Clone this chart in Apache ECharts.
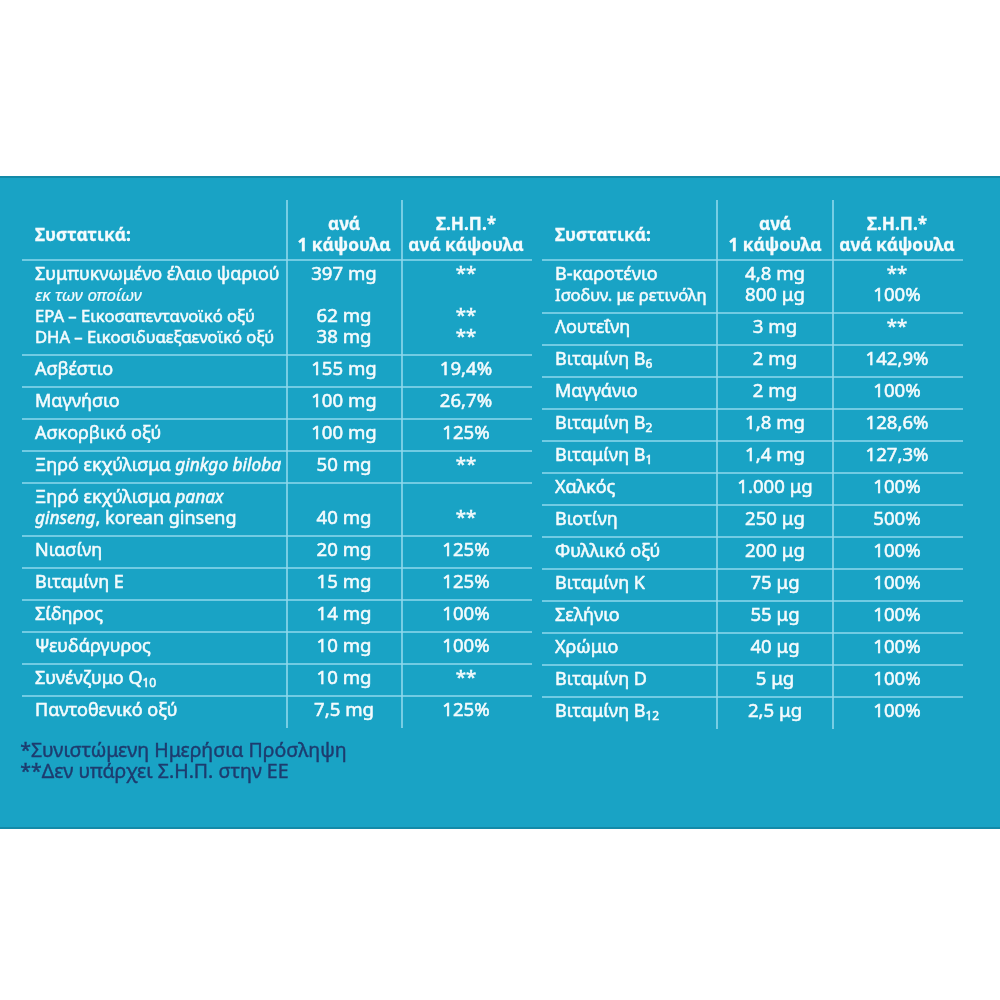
<!DOCTYPE html>
<html><head><meta charset="utf-8">
<script src="https://cdn.jsdelivr.net/npm/echarts@6/dist/echarts.min.js"></script>
<style>html,body{margin:0;padding:0;background:#fff}#c{width:1000px;height:1000px}</style>
</head><body><div id="c"></div>
<script>
// ---- content ----
const headerName = 'Συστατικά:';
const headerAmount = 'ανά\n1 κάψουλα';
const headerRda = 'Σ.Η.Π.*\nανά κάψουλα';

const leftNames = [
  'Συμπυκνωμένο έλαιο ψαριού\n{small|εκ των οποίων}\n{tight|EPA – Εικοσαπεντανοϊκό οξύ}\n{tight|DHA – Εικοσιδυαεξαενοϊκό οξύ}',
  'Ασβέστιο',
  'Μαγνήσιο',
  'Ασκορβικό οξύ',
  'Ξηρό εκχύλισμα {i|ginkgo biloba}',
  'Ξηρό εκχύλισμα {i|panax}\n{i|ginseng}, korean ginseng',
  'Νιασίνη',
  'Βιταμίνη E',
  'Σίδηρος',
  'Ψευδάργυρος',
  'Συνένζυμο Q{s|10}',
  'Παντοθενικό οξύ'
];
const leftAmounts = ['397 mg\n\n62 mg\n38 mg', '155 mg', '100 mg', '100 mg', '50 mg', '\n40 mg',
  '20 mg', '15 mg', '14 mg', '10 mg', '10 mg', '7,5 mg'];
const leftRda = ['**\n\n**\n**', '19,4%', '26,7%', '125%', '**', '\n**',
  '125%', '125%', '100%', '100%', '**', '125%'];

const rightNames = [
  'Β-καροτένιο\n{tight|Ισοδυν. με ρετινόλη}',
  'Λουτεΐνη',
  'Βιταμίνη B{s|6}',
  'Μαγγάνιο',
  'Βιταμίνη B{s|2}',
  'Βιταμίνη B{s|1}',
  'Χαλκός',
  'Βιοτίνη',
  'Φυλλικό οξύ',
  'Βιταμίνη K',
  'Σελήνιο',
  'Χρώμιο',
  'Βιταμίνη D',
  'Βιταμίνη B{s|12}'
];
const rightAmounts = ['4,8 mg\n800 μg', '3 mg', '2 mg', '2 mg', '1,8 mg', '1,4 mg', '1.000 μg',
  '250 μg', '200 μg', '75 μg', '55 μg', '40 μg', '5 μg', '2,5 μg'];
const rightRda = ['**\n100%', '**', '142,9%', '100%', '128,6%', '127,3%', '100%',
  '500%', '100%', '100%', '100%', '100%', '100%', '100%'];

const footnotes = ['*Συνιστώμενη Ημερήσια Πρόσληψη', '**Δεν υπάρχει Σ.Η.Π. στην ΕΕ'];

// ---- layout / style ----
const FONT = "'Noto Sans', 'DejaVu Sans', sans-serif";
const TEXT = '#f4fbfd';
const RULE = '#8fd8ec';
const TOP = 200, HEAD_H = 60, LINE_H = 21, PAD = 11;

const tables = [
  {names: leftNames, amounts: leftAmounts, rda: leftRda,
   x0: 22, x1: 532, d1: 287, d2: 402, nameX: 35, amtX: 344, rdaX: 466},
  {names: rightNames, amounts: rightAmounts, rda: rightRda,
   x0: 542, x1: 963, d1: 717, d2: 833, nameX: 555, amtX: 775, rdaX: 897}
];
tables.forEach(t => {
  t.tops = []; let y = TOP + HEAD_H;
  t.names.forEach((n, i) => {
    const lines = Math.max(n.split('\n').length, t.amounts[i].split('\n').length, t.rda[i].split('\n').length);
    const h = lines * LINE_H + PAD;
    t.tops.push([y, h]); y += h;
  });
  t.bottom = y;
});

const rich = {
  i: {fontStyle: 'italic', fontSize: 17.3, fontFamily: FONT, lineHeight: LINE_H},
  small: {fontStyle: 'italic', fontSize: 17, fontFamily: FONT, lineHeight: LINE_H, lineWidth: 0.2},
  tight: {fontSize: 16.6, fontFamily: FONT, lineHeight: LINE_H},
  s: {fontSize: 12, fontFamily: FONT, verticalAlign: 'bottom', lineHeight: 16}
};

const data = [];
tables.forEach((t, ti) => { data.push([ti, -1]); t.names.forEach((n, i) => data.push([ti, i])); });

function txt(x, y, text, align, kind) {
  const bold = kind === 'head';
  const size = bold ? 17.3 : (kind === 'val' ? 18.6 : 18);
  return {type: 'text', x: x, y: y, style: {
    text: text, align: align, verticalAlign: 'middle', textAlign: align, textVerticalAlign: 'middle',
    fill: TEXT, stroke: TEXT, lineWidth: bold ? 0.3 : 0.55,
    fontSize: size, fontWeight: bold ? 'bold' : 'normal', fontFamily: FONT,
    lineHeight: LINE_H, rich: rich
  }};
}
function line(api, xa, ya, xb, yb) {
  const p = api.coord([xa, ya]), q = api.coord([xb, yb]);
  return {type: 'line', shape: {x1: p[0], y1: p[1], x2: q[0], y2: q[1]},
    style: {stroke: RULE, lineWidth: 1.6}};
}

function renderItem(params, api) {
  const t = tables[api.value(0)], i = api.value(1);
  const children = [];
  if (i < 0) {
    const c = api.coord([0, TOP + HEAD_H / 2 + 6]);
    children.push(txt(api.coord([t.nameX, 0])[0], c[1], headerName, 'left', 'head'));
    children.push(txt(api.coord([t.amtX, 0])[0], c[1], headerAmount, 'center', 'head'));
    children.push(txt(api.coord([t.rdaX, 0])[0], c[1], headerRda, 'center', 'head'));
    children.push(line(api, t.d1, TOP, t.d1, t.bottom));
    children.push(line(api, t.d2, TOP, t.d2, t.bottom));
  } else {
    const top = t.tops[i][0], h = t.tops[i][1];
    const cy = api.coord([0, top + h / 2 - 1])[1];
    children.push(line(api, t.x0, top, t.x1, top));
    children.push(txt(api.coord([t.nameX, 0])[0], cy, t.names[i], 'left', 'name'));
    children.push(txt(api.coord([t.amtX, 0])[0], cy, t.amounts[i], 'center', 'val'));
    children.push(txt(api.coord([t.rdaX, 0])[0], cy, t.rda[i], 'center', 'val'));
  }
  return {type: 'group', children: children};
}

const chart = echarts.init(document.getElementById('c'));
chart.setOption({
  backgroundColor: '#ffffff',
  animation: false,
  grid: {left: 0, right: 0, top: 0, bottom: 0},
  xAxis: {type: 'value', min: 0, max: 1000, show: false},
  yAxis: {type: 'value', min: 0, max: 1000, inverse: true, show: false},
  graphic: [
    {type: 'rect', z: -10, shape: {x: 0, y: 176, width: 1000, height: 653}, style: {fill: '#19a3c5'}},
    {type: 'rect', z: -9, shape: {x: 0, y: 176, width: 1000, height: 2}, style: {fill: '#138aa8'}},
    {type: 'rect', z: -9, shape: {x: 0, y: 827, width: 1000, height: 2}, style: {fill: '#138aa8'}}
  ].concat(footnotes.map((f, k) => ({
    type: 'text', left: 20, top: 741 + k * 21,
    style: {text: f, fill: '#1d3b6e', stroke: '#1d3b6e', lineWidth: 0.4, fontSize: 19.5, fontFamily: FONT}
  }))),
  series: [{
    type: 'custom', coordinateSystem: 'cartesian2d', renderItem: renderItem,
    data: data, silent: true
  }]
});
</script>
</body></html>
